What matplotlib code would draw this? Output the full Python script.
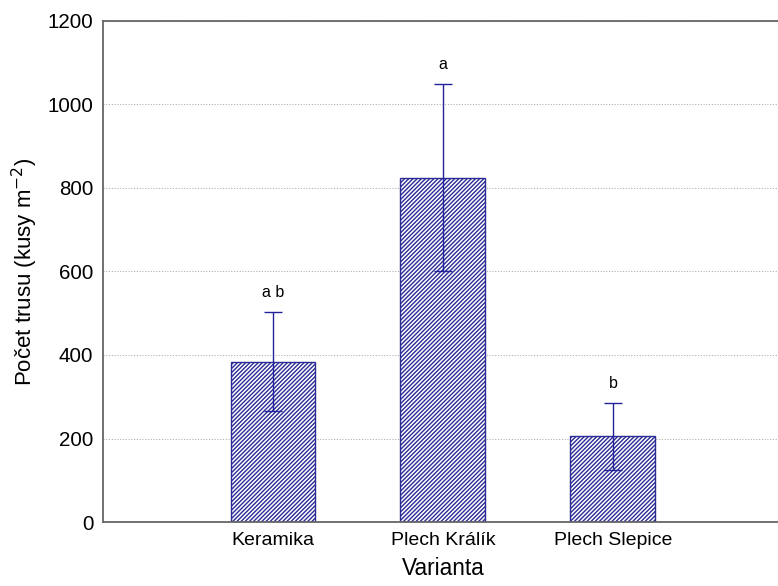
import numpy as np
import matplotlib.pyplot as plt

plt.rcParams['font.family'] = ['Liberation Sans', 'DejaVu Sans']
plt.rcParams['hatch.linewidth'] = 1.0
plt.rcParams['hatch.color'] = '#22225e'

varianty = ["Keramika", "Plech Králík", "Plech Slepice"]
prumer = [384, 825, 205]
chyba = [119, 224, 81]
pismena = ["a b", "a", "b"]

fig = plt.figure(figsize=(7.78, 5.86), dpi=100)
ax = fig.add_axes([0.1324, 0.1092, 0.874, 0.855])

x = np.arange(1, len(varianty) + 1)
ax.bar(x, prumer, width=0.5, color='white', edgecolor='#2b2b96',
       hatch='////////', linewidth=1.0, zorder=2)
ax.errorbar(x, prumer, yerr=chyba, fmt='none', ecolor='#22229a',
            elinewidth=1.0, capsize=6.5, capthick=1.0, zorder=3)

for xi, m, e, t in zip(x, prumer, chyba, pismena):
    ax.text(xi, m + e + 28, t, ha='center', va='bottom', fontsize=11.5)

ax.set_xlim(0, 4)
ax.set_ylim(0, 1200)
ax.set_yticks(range(0, 1201, 200))
ax.set_xticks(x)
ax.set_xticklabels(varianty, fontsize=14)
ax.tick_params(axis='y', labelsize=14.8, length=0, pad=7)
ax.tick_params(axis='x', direction='in', length=3, pad=7, color='#555555')
ax.yaxis.grid(True, linestyle=(0, (1, 1.5)), color='#b0b0b0', linewidth=0.8, zorder=0)
ax.set_axisbelow(True)

for s in ['left', 'bottom', 'top']:
    ax.spines[s].set_color('#666666')
    ax.spines[s].set_linewidth(1.3)
ax.spines['right'].set_visible(False)

ax.set_xlabel("Varianta", fontsize=16.3, labelpad=6)
ax.set_ylabel("Počet trusu (kusy m$^{-2}$)", fontsize=16, labelpad=5)

fig.savefig("out.png", dpi=100)
